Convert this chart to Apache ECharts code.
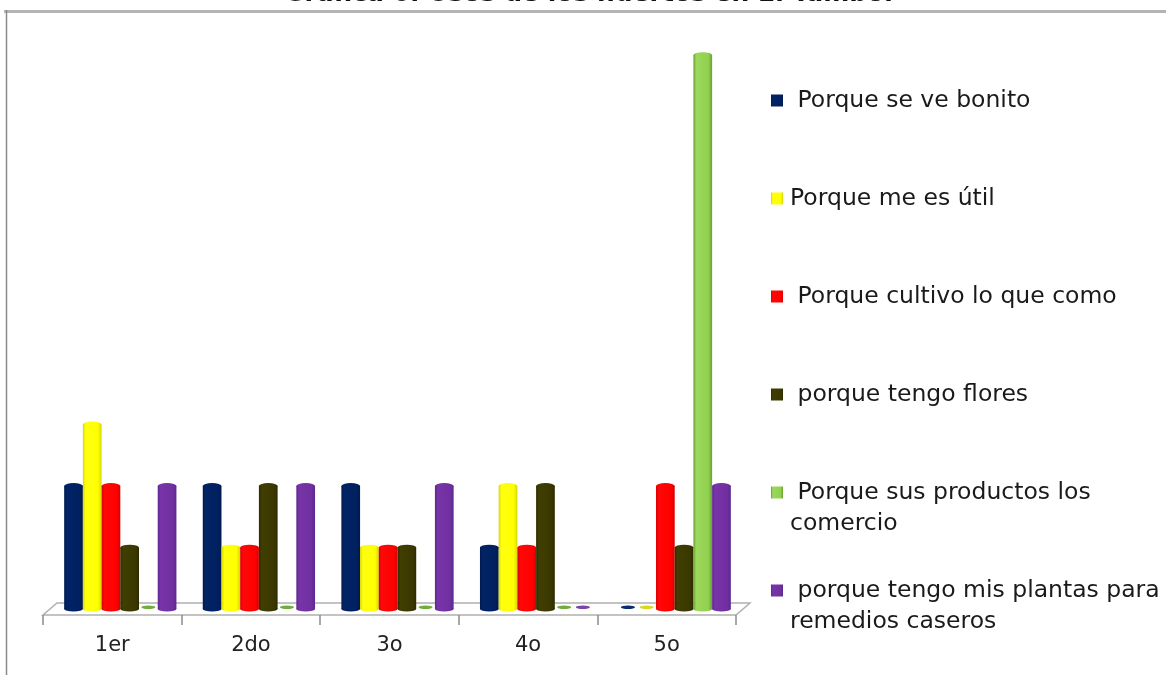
<!DOCTYPE html>
<html><head><meta charset="utf-8">
<style>html,body{margin:0;padding:0;background:#fff}#c{width:1166px;height:675px}</style>
<script src="https://cdn.jsdelivr.net/npm/echarts@6/dist/echarts.min.js"></script>
</head><body><div id="c"></div>
<script>
const categories = ['1er','2do','3o','4o','5o'];
const seriesNames = [' Porque se ve bonito','Porque me es útil',' Porque cultivo lo que como',' porque tengo flores',' Porque sus productos los\ncomercio',' porque tengo mis plantas para\nremedios caseros'];
const bonito = [2,2,2,1,0];
const util = [3,1,1,2,0];
const cultivo = [2,1,1,1,2];
const flores = [1,2,1,2,1];
const comercio = [0,0,0,0,9];
const plantas = [2,2,2,0,2];
const values = [bonito,util,cultivo,flores,comercio,plantas];
const colors = ['#002060','#ffff00','#ff0000','#3a3800','#92d050','#7030a0'];
const dark = ['#001a50','#d8d800','#d80000','#2e2c00','#6aa030','#5c2890'];
const light = ['#022464','#ffff10','#ff0808','#403e00','#9cd85c','#7834a8'];
const rim = ['#0a2c70','#d8d820','#e81818','#2e2c00','#6fae3c','#7c44a8'];
const legendTops = [85,183,281,379,477,575];

function grad(i){return {type:'linear',x:0,y:0,x2:1,y2:0,colorStops:[
 {offset:0,color:dark[i]},{offset:.15,color:light[i]},{offset:.8,color:colors[i]},{offset:1,color:dark[i]}]};}
const series=[];
const ecaxis=[{gridIndex:0,type:'category',data:categories,show:false},{gridIndex:0,type:'category',data:categories,show:false},
 {gridIndex:1,type:'category',data:categories,
  axisLine:{show:false},axisTick:{show:true,length:10,lineStyle:{color:'#8c8c8c',width:1.5}},
  axisLabel:{color:'#222',fontSize:21,fontFamily:'DejaVu Sans',margin:20}}];
values.forEach((v,i)=>{
  series.push({name:seriesNames[i],type:'bar',xAxisIndex:0,yAxisIndex:0,data:v,barGap:'0%',barCategoryGap:'19%',
    itemStyle:{color:grad(i)},z:3,silent:true,animation:false});
  series.push({type:'pictorialBar',xAxisIndex:0,yAxisIndex:0,
    data:v.map(x=>x>0?{value:x,symbolSize:['100%',6],symbolOffset:[0,'-50%'],itemStyle:{color:grad(i),borderColor:rim[i],borderWidth:.8}}
                     :{value:x,symbolSize:['75%',3.5],symbolOffset:[0,'-100%'],itemStyle:{color:rim[i]}}),
    symbol:'circle',symbolPosition:'end',barGap:'0%',barCategoryGap:'19%',z:4,silent:true,animation:false});
  series.push({type:'pictorialBar',xAxisIndex:1,yAxisIndex:0,data:v.map(x=>x>0?0:null),symbol:'circle',symbolSize:['100%',5],
    symbolPosition:'end',symbolOffset:[0,'-50%'],barGap:'0%',barCategoryGap:'19%',itemStyle:{color:grad(i)},z:2,silent:true,animation:false});
});
series.push({type:'bar',xAxisIndex:2,yAxisIndex:1,data:[0,0,0,0,0],silent:true,animation:false});

const legends=seriesNames.map((n,i)=>{
  const two=n.includes('\n');
  return {data:[{name:n,icon:two?'path://M0 0H12V12H0Z M0 43H12V43H0Z':'rect'}],left:771,top:legendTops[i],itemWidth:12,itemHeight:two?43:12,itemGap:0,
  selectedMode:false,textStyle:{color:'#1a1a1a',fontSize:23.5,fontFamily:'DejaVu Sans',lineHeight:31,padding:[0,0,0,2]},padding:0};});

const chart=echarts.init(document.getElementById('c'),null,{renderer:'canvas'});
chart.setOption({animation:false,backgroundColor:'#fff',
 title:{text:'Gráfica 6. Usos de los huertos en El Tambor',left:284,top:-18,padding:0,
   textStyle:{fontSize:25,fontWeight:'bold',color:'#111',fontFamily:'DejaVu Sans'}},
 legend:legends,
 grid:[{left:51,width:693,top:55,height:554},{left:43,width:693,top:300,height:315}],
 xAxis:ecaxis,
 yAxis:[{gridIndex:0,type:'value',min:0,max:9,show:false},{gridIndex:1,type:'value',min:0,max:1,show:false}],
 series,
 graphic:[
  {type:'rect',shape:{x:4,y:10,width:1162,height:3},style:{fill:'#b4b4b4'},silent:true},
  {type:'line',shape:{x1:6.5,y1:10,x2:6.5,y2:675},style:{stroke:'#8a8a8a',lineWidth:1.5},silent:true},
  {type:'polygon',shape:{points:[[43,615],[736,615],[750,603],[57,603]]},style:{fill:'#fff',stroke:'#b0b0b0',lineWidth:1.5},z:0,silent:true}
 ]});
</script></body></html>
